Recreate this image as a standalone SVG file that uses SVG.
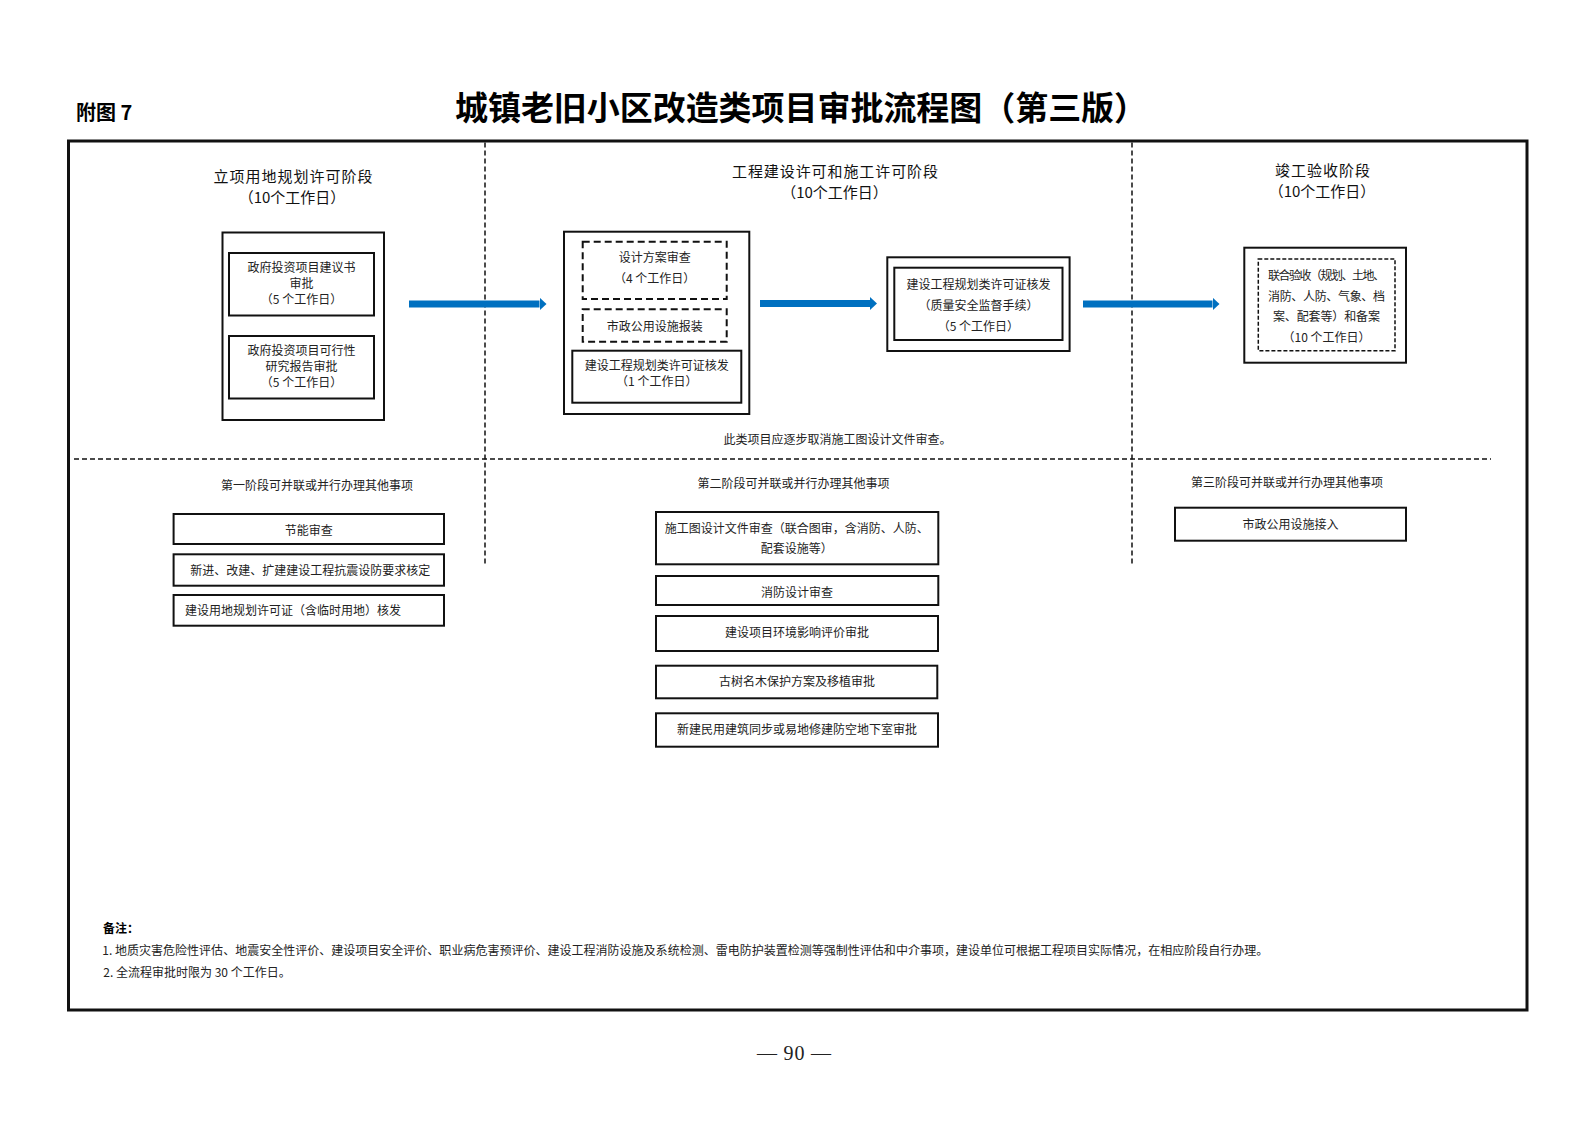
<svg xmlns="http://www.w3.org/2000/svg" width="1587" height="1122" viewBox="0 0 1587 1122">
<style>
  text { font-family: "Noto Sans CJK SC", "Liberation Sans", sans-serif; fill: #222; }
  .t12 { font-size: 12px; }
  .c { text-anchor: middle; }
  .hdr { font-size: 15px; fill: #111; text-anchor: middle; }
  .box { fill: #fff; stroke: #111; stroke-width: 2; }
  .dbox { fill: none; stroke: #111; stroke-width: 2; stroke-dasharray: 7 4; }
  .dbox2 { fill: none; stroke: #111; stroke-width: 1.5; stroke-dasharray: 4 2; }
  .sep { fill: none; stroke: #111; stroke-width: 1.5; stroke-dasharray: 5 3; }
  .arrow { stroke: #0070C0; stroke-width: 7; fill: none; marker-end: url(#ah); }
</style>
<defs>
  <marker id="ah" viewBox="0 0 7 13" markerWidth="7" markerHeight="13" refX="0" refY="6.5" orient="auto" markerUnits="userSpaceOnUse">
    <path d="M0,0 L7,6.5 L0,13 Z" fill="#0070C0"/>
  </marker>
</defs>
<rect width="1587" height="1122" fill="#fff"/>

<g id="page-header">
  <text x="76" y="120" style="font-size:20px;font-weight:700;fill:#000">附图 7</text>
  <text x="455" y="120" textLength="692" lengthAdjust="spacingAndGlyphs" style="font-size:33px;font-weight:700;fill:#000">城镇老旧小区改造类项目审批流程图（第三版）</text>
</g>

<g id="frame">
  <rect x="68.5" y="141" width="1458.5" height="869" fill="none" stroke="#111" stroke-width="3"/>
  <line class="sep" x1="485" y1="142.5" x2="485" y2="566"/>
  <line class="sep" x1="1132" y1="142.5" x2="1132" y2="566"/>
  <line class="sep" x1="74" y1="459" x2="1491" y2="459"/>
</g>

<g id="stage-headers">
  <text class="hdr" x="293" y="181.5" textLength="159" lengthAdjust="spacing">立项用地规划许可阶段</text>
  <text class="hdr" x="292" y="202.5">（10个工作日）</text>
  <text class="hdr" x="835" y="177" textLength="206" lengthAdjust="spacing">工程建设许可和施工许可阶段</text>
  <text class="hdr" x="834.5" y="198">（10个工作日）</text>
  <text class="hdr" x="1322.5" y="176" textLength="95" lengthAdjust="spacing">竣工验收阶段</text>
  <text class="hdr" x="1322" y="197">（10个工作日）</text>
</g>

<g id="stage1-main">
  <rect class="box" x="222.5" y="232.5" width="161.5" height="187.5"/>
  <g id="s1-proposal">
    <rect class="box" x="229" y="253" width="145" height="62.5"/>
    <text class="t12 c" x="301.5" y="272">政府投资项目建议书</text>
    <text class="t12 c" x="301.5" y="288">审批</text>
    <text class="t12 c" x="301.5" y="303.6">（5 个工作日）</text>
  </g>
  <g id="s1-feasibility">
    <rect class="box" x="229" y="336" width="145" height="62.5"/>
    <text class="t12 c" x="301.5" y="355.3">政府投资项目可行性</text>
    <text class="t12 c" x="301.5" y="370.6">研究报告审批</text>
    <text class="t12 c" x="301.5" y="386.6">（5 个工作日）</text>
  </g>
</g>

<g id="stage2-main">
  <rect class="box" x="564" y="231.7" width="185.3" height="182.3"/>
  <g id="s2-design">
    <rect class="dbox" x="582.7" y="241.7" width="144" height="57.3"/>
    <text class="t12 c" x="654.7" y="262.3">设计方案审查</text>
    <text class="t12 c" x="654.7" y="283">（4 个工作日）</text>
  </g>
  <g id="s2-municipal">
    <rect class="dbox" x="582.7" y="309.3" width="144" height="32.4"/>
    <text class="t12 c" x="654.7" y="330.6">市政公用设施报装</text>
  </g>
  <g id="s2-permit">
    <rect class="box" x="572.3" y="350.7" width="169" height="52"/>
    <text class="t12 c" x="656.8" y="369.6">建设工程规划类许可证核发</text>
    <text class="t12 c" x="656.8" y="386.3">（1 个工作日）</text>
  </g>
</g>

<g id="stage2-construction">
  <rect class="box" x="887.3" y="257.3" width="182.3" height="93.7"/>
  <rect class="box" x="894.3" y="267.7" width="168.2" height="72.3"/>
  <text class="t12 c" x="978.4" y="289">建设工程规划类许可证核发</text>
  <text class="t12 c" x="978.4" y="309.6">（质量安全监督手续）</text>
  <text class="t12 c" x="978.4" y="330.6">（5 个工作日）</text>
</g>

<g id="stage2-note">
  <text class="t12 c" x="837.4" y="443.6">此类项目应逐步取消施工图设计文件审查。</text>
</g>

<g id="stage3-main">
  <rect class="box" x="1244.3" y="247.7" width="161.7" height="115"/>
  <rect class="dbox2" x="1258.3" y="259" width="136.7" height="91.7"/>
  <text class="t12 c" x="1326.5" y="279.6" textLength="117" lengthAdjust="spacing">联合验收（规划、土地、</text>
  <text class="t12 c" x="1326.5" y="300.6" textLength="117" lengthAdjust="spacing">消防、人防、气象、档</text>
  <text class="t12 c" x="1326.5" y="321.3" textLength="107" lengthAdjust="spacing">案、配套等）和备案</text>
  <text class="t12 c" x="1326.5" y="342">（10 个工作日）</text>
</g>

<g id="connectors">
  <line class="arrow" x1="409" y1="304" x2="539.5" y2="304"/>
  <line class="arrow" x1="760" y1="303.5" x2="870" y2="303.5"/>
  <line class="arrow" x1="1083" y1="304" x2="1212.5" y2="304"/>
</g>

<g id="stage1-parallel">
  <text class="t12 c" x="317" y="489.6">第一阶段可并联或并行办理其他事项</text>
  <g id="p1-energy">
    <rect class="box" x="173.6" y="514" width="270.4" height="30"/>
    <text class="t12 c" x="308.8" y="535.3">节能审查</text>
  </g>
  <g id="p1-seismic">
    <rect class="box" x="173.6" y="554.3" width="270.4" height="31.4"/>
    <text class="t12 c" x="310.2" y="575.3">新进、改建、扩建建设工程抗震设防要求核定</text>
  </g>
  <g id="p1-landuse">
    <rect class="box" x="173.6" y="595" width="270.4" height="30.7"/>
    <text class="t12" x="185" y="615.3">建设用地规划许可证（含临时用地）核发</text>
  </g>
</g>

<g id="stage2-parallel">
  <text class="t12 c" x="793.5" y="488">第二阶段可并联或并行办理其他事项</text>
  <g id="p2-drawings">
    <rect class="box" x="656" y="512" width="282.3" height="52.3"/>
    <text class="t12 c" x="796.7" y="533.3">施工图设计文件审查（联合图审，含消防、人防、</text>
    <text class="t12 c" x="796.7" y="553">配套设施等）</text>
  </g>
  <g id="p2-fire">
    <rect class="box" x="656" y="576" width="282.3" height="29"/>
    <text class="t12 c" x="797" y="597">消防设计审查</text>
  </g>
  <g id="p2-env">
    <rect class="box" x="656" y="616" width="282" height="35"/>
    <text class="t12 c" x="797" y="637">建设项目环境影响评价审批</text>
  </g>
  <g id="p2-trees">
    <rect class="box" x="656" y="665.7" width="281.3" height="32.6"/>
    <text class="t12 c" x="797" y="686.3">古树名木保护方案及移植审批</text>
  </g>
  <g id="p2-shelter">
    <rect class="box" x="656" y="713.3" width="282" height="33.4"/>
    <text class="t12 c" x="797" y="734">新建民用建筑同步或易地修建防空地下室审批</text>
  </g>
</g>

<g id="stage3-parallel">
  <text class="t12 c" x="1287" y="487">第三阶段可并联或并行办理其他事项</text>
  <g id="p3-utility">
    <rect class="box" x="1175" y="507.7" width="231" height="33"/>
    <text class="t12 c" x="1290.5" y="529">市政公用设施接入</text>
  </g>
</g>

<g id="notes">
  <text class="t12" x="103" y="933" style="font-weight:700;fill:#000">备注：</text>
  <text class="t12" x="102.3" y="954.6" textLength="1166" lengthAdjust="spacing">1. 地质灾害危险性评估、地震安全性评价、建设项目安全评价、职业病危害预评价、建设工程消防设施及系统检测、雷电防护装置检测等强制性评估和中介事项，建设单位可根据工程项目实际情况，在相应阶段自行办理。</text>
  <text class="t12" x="103.3" y="977.3">2. 全流程审批时限为 30 个工作日。</text>
</g>

<g id="page-number">
  <text x="794" y="1060" text-anchor="middle" textLength="74" lengthAdjust="spacing" style="font-family:'Liberation Serif',serif;font-size:20px;fill:#222">— 90 —</text>
</g>
</svg>
